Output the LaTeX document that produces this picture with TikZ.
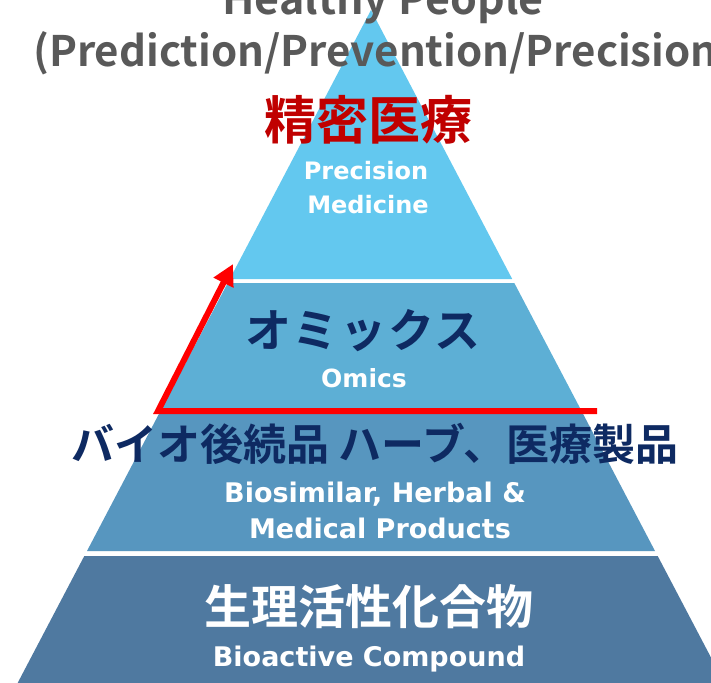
\documentclass[tikz,border=0pt]{standalone}
\usepackage{fontspec}
\setmainfont{Noto Sans CJK JP}[BoldFont={* Bold}]
\newfontfamily\latb{DejaVu Sans Bold}
\newfontfamily\jpb{Noto Sans CJK JP Bold}
\usetikzlibrary{arrows.meta}
\definecolor{tierA}{HTML}{63C8EF}
\definecolor{tierB}{HTML}{5DAFD5}
\definecolor{tierC}{HTML}{5796BF}
\definecolor{tierD}{HTML}{4F79A0}
\definecolor{navy}{HTML}{0E2A62}
\definecolor{darkred}{HTML}{C00000}
\definecolor{greytxt}{HTML}{595959}
\tikzset{
  whitelabel/.style={text=white, inner sep=0pt, anchor=base, font=\latb},
  jplabel/.style={inner sep=0pt, anchor=base},
  headline/.style={text=greytxt, inner sep=0pt, font=\jpb},
  redarrow/.style={draw=red, line width=6pt, -{Triangle[length=21pt,width=21pt]}}
}
\begin{document}
\begin{tikzpicture}[x=1pt,y=-1pt]
\useasboundingbox (0,0) rectangle (711,682);
\fill[white] (0,0) rectangle (711,682);
% tiers (apex 371,10 ; half-width 0.525*(y-10))
\fill[tierA] (371,10) -- (512.2,279) -- (229.8,279) -- cycle;
\fill[tierB] (227.7,283) -- (514.3,283) -- (580.5,409) -- (161.5,409) -- cycle;
\fill[tierC] (158.9,414) -- (583.1,414) -- (655.0,551) -- (87.0,551) -- cycle;
\fill[tierD] (84.3,556) -- (657.7,556) -- (733.3,700) -- (8.7,700) -- cycle;
% headline
\node[headline, anchor=base] (hp) at (383,15) {\fontsize{43}{46}\selectfont Healthy People};
\node[headline, anchor=base west] (ppp) at (33,67) {\fontsize{42}{46}\selectfont (Prediction/Prevention/Precision};
% tier 1
\node[jplabel, text=darkred] (t1jp) at (368,139) {\jpb\fontsize{52}{56}\selectfont 精密医療};
\node[whitelabel] (t1en1) at (366,179) {\fontsize{24}{28}\selectfont Precision};
\node[whitelabel] (t1en2) at (368,213) {\fontsize{24}{28}\selectfont Medicine};
% tier 2
\node[jplabel, text=navy] (t2jp) at (363,347) {\jpb\fontsize{46}{50}\selectfont\addfontfeatures{LetterSpace=4} オミックス};
\node[whitelabel] (t2en) at (364,387) {\fontsize{25}{28}\selectfont Omics};
% tier 3
\node[jplabel, text=navy] (t3jp) at (375,460) {\jpb\fontsize{43}{47}\selectfont バイオ後続品 ハーブ、医療製品};
\node[whitelabel] (t3en1) at (375,502) {\fontsize{27}{30}\selectfont Biosimilar, Herbal \&};
\node[whitelabel] (t3en2) at (380,538) {\fontsize{27}{30}\selectfont Medical Products};
% tier 4
\node[jplabel, text=white] (t4jp) at (369,624) {\jpb\fontsize{47}{50}\selectfont 生理活性化合物};
\node[whitelabel] (t4en) at (369,666) {\fontsize{27}{30}\selectfont Bioactive Compound};
% red arrow
\coordinate (arrStart) at (597,411);
\coordinate (arrCorner) at (158,411);
\coordinate (arrTip) at (233,264);
\draw[redarrow] (arrStart) -- (arrCorner) -- (arrTip);
\end{tikzpicture}
\end{document}
